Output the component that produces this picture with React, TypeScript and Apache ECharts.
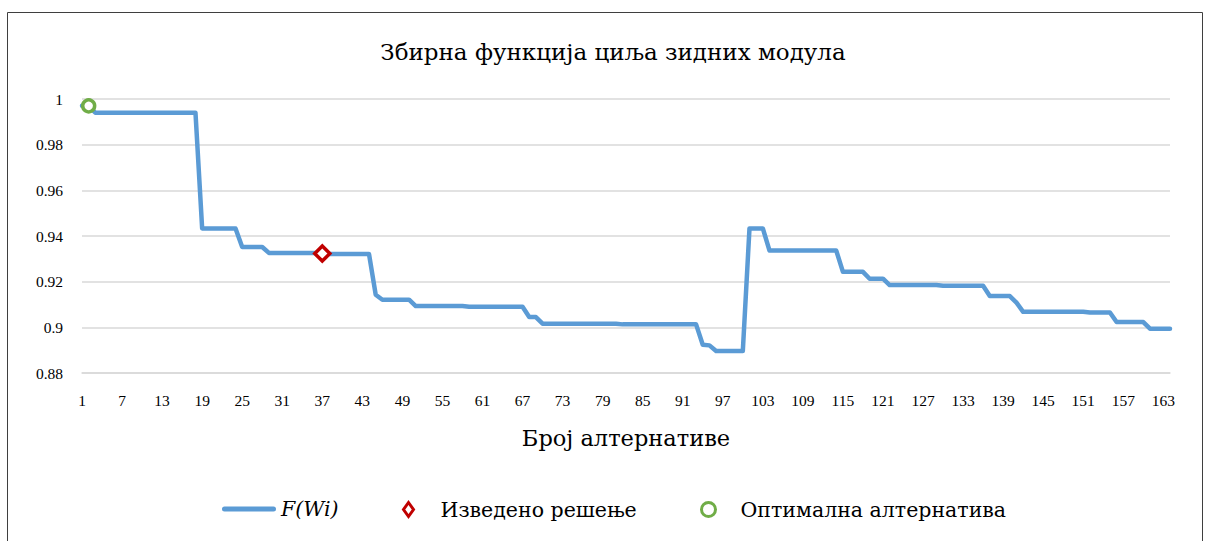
import React, { useEffect, useRef } from "react";
import * as echarts from "echarts";

// Aggregate objective function F(Wi) for each wall-module alternative (1..164)
const fValues: number[] = [
  0.997, 0.997,
  0.994, 0.994, 0.994, 0.994, 0.994, 0.994, 0.994, 0.994,
  0.994, 0.994, 0.994, 0.994, 0.994, 0.994, 0.994, 0.994,
  0.9433, 0.9433, 0.9433, 0.9433, 0.9433, 0.9433,
  0.9352, 0.9352, 0.9352, 0.9352,
  0.9326, 0.9326, 0.9326, 0.9326, 0.9326, 0.9326, 0.9326, 0.9326,
  0.9323,
  0.9321, 0.9321, 0.9321, 0.9321, 0.9321, 0.9321, 0.9321,
  0.9143,
  0.9121, 0.9121, 0.9121, 0.9121, 0.9121,
  0.9093, 0.9093, 0.9093, 0.9093, 0.9093, 0.9093, 0.9093, 0.9093,
  0.909, 0.909, 0.909, 0.909, 0.909, 0.909, 0.909, 0.909, 0.909,
  0.9045, 0.9045,
  0.9016, 0.9016, 0.9016, 0.9016, 0.9016, 0.9016, 0.9016, 0.9016, 0.9016, 0.9016, 0.9016, 0.9016,
  0.9013, 0.9013, 0.9013, 0.9013, 0.9013, 0.9013, 0.9013, 0.9013, 0.9013, 0.9013, 0.9013, 0.9013,
  0.8924,
  0.8921,
  0.8896, 0.8896, 0.8896, 0.8896, 0.8896,
  0.9433, 0.9433, 0.9433,
  0.9336, 0.9336, 0.9336, 0.9336, 0.9336, 0.9336, 0.9336, 0.9336, 0.9336, 0.9336, 0.9336,
  0.9243, 0.9243, 0.9243, 0.9243,
  0.9213, 0.9213, 0.9213,
  0.9185, 0.9185, 0.9185, 0.9185, 0.9185, 0.9185, 0.9185, 0.9185,
  0.9182, 0.9182, 0.9182, 0.9182, 0.9182, 0.9182, 0.9182,
  0.9137, 0.9137, 0.9137, 0.9137,
  0.9108,
  0.9068, 0.9068, 0.9068, 0.9068, 0.9068, 0.9068, 0.9068, 0.9068, 0.9068, 0.9068,
  0.9065, 0.9065, 0.9065, 0.9065,
  0.9023, 0.9023, 0.9023, 0.9023, 0.9023,
  0.8994, 0.8994, 0.8994, 0.8994,
];

const alternatives: string[] = fValues.map((_, i) => String(i + 1));

// Highlighted alternatives
const derivedAlternative = ["37"];
const derivedValue = [0.9323];
const optimalAlternative = ["2"];
const optimalValue = [0.997];

const TITLE = "Збирна функција циља зидних модула";
const X_NAME = "Број алтернативе";
const SERIES_F = "F(Wi)";
const SERIES_DERIVED = "Изведено решење";
const SERIES_OPTIMAL = "Оптимална алтернатива";

const TEXT_FONT = "'DejaVu Serif', serif";
const NUM_FONT = "'Liberation Serif', 'DejaVu Serif', serif";
const BLUE = "#5b9bd5";
const RED = "#c00000";
const GREEN = "#70ad47";
const GRID = "#d9d9d9";

// Legend keys drawn as fixed-aspect paths
const LINE_KEY = "path://M2.5,0 L51.5,0 A2.5,2.5 0 0 1 51.5,5 L2.5,5 A2.5,2.5 0 0 1 2.5,0 Z";
const DIAMOND_KEY = "path://M5,0 L10,7 L5,14 L0,7 Z";
const CIRCLE_KEY = "path://M6,0 A6,6 0 1 1 6,12 A6,6 0 1 1 6,0 Z";

const LEGEND_FONT = 20.5;

const legendBase = {
  top: 494,
  itemWidth: 54,
  itemHeight: 14,
  itemGap: 0,
  symbolKeepAspect: true,
  selectedMode: false,
  textStyle: {
    fontFamily: TEXT_FONT,
    fontSize: LEGEND_FONT,
    color: "#000",
    rich: { i: { fontFamily: TEXT_FONT, fontSize: LEGEND_FONT, fontStyle: "italic", color: "#000" } },
  },
};

export default function App() {
  const ref = useRef<HTMLDivElement>(null);

  useEffect(() => {
    if (!ref.current) return;
    const chart = echarts.init(ref.current, null, { renderer: "svg" });
    chart.setOption({
      animation: false,
      backgroundColor: "#ffffff",
      textStyle: { fontFamily: TEXT_FONT, color: "#000" },
      title: {
        text: TITLE,
        left: 608,
        top: 35,
        textAlign: "center",
        textStyle: { fontFamily: TEXT_FONT, fontSize: 23, fontWeight: "normal", color: "#000" },
      },
      grid: { left: 82, right: 36, top: 99, bottom: 168, containLabel: false },
      xAxis: {
        type: "category",
        data: alternatives,
        boundaryGap: false,
        name: X_NAME,
        nameLocation: "middle",
        nameGap: 53,
        nameTextStyle: { fontFamily: TEXT_FONT, fontSize: 22.5, color: "#000" },
        axisLine: { show: true, lineStyle: { color: GRID, width: 1.5 } },
        axisTick: { show: false },
        axisLabel: {
          interval: 5,
          margin: 19,
          fontFamily: NUM_FONT,
          fontSize: 15.5,
          color: "#000",
        },
        splitLine: { show: false },
      },
      yAxis: {
        type: "value",
        min: 0.88,
        max: 1,
        interval: 0.02,
        axisLine: { show: false },
        axisTick: { show: false },
        axisLabel: {
          margin: 19,
          fontFamily: NUM_FONT,
          fontSize: 15.5,
          color: "#000",
          formatter: (v: number) => String(+v.toFixed(2)),
        },
        splitLine: { lineStyle: { color: GRID, width: 1.5 } },
      },
      legend: [
        {
          ...legendBase,
          left: 217,
          data: [{ name: SERIES_F, icon: LINE_KEY, itemStyle: { color: BLUE, borderWidth: 0 } }],
          formatter: (name: string) => `{i|${name}}`,
        },
        {
          ...legendBase,
          left: 397,
          data: [
            {
              name: SERIES_DERIVED,
              icon: DIAMOND_KEY,
              itemStyle: { color: "#fff", borderColor: RED, borderWidth: 3 },
            },
          ],
        },
        {
          ...legendBase,
          left: 695,
          data: [
            {
              name: SERIES_OPTIMAL,
              icon: CIRCLE_KEY,
              itemStyle: { color: "#fff", borderColor: GREEN, borderWidth: 3 },
            },
          ],
        },
      ],
      graphic: [
        {
          type: "rect",
          shape: { x: 7.5, y: 12.5, width: 1195, height: 600 },
          style: { fill: "none", stroke: "#3f3f3f", lineWidth: 1 },
          silent: true,
          z: -1,
        },
      ],
      series: [
        {
          name: SERIES_F,
          type: "line",
          data: fValues,
          symbol: "none",
          color: BLUE,
          lineStyle: { color: BLUE, width: 4.5, cap: "round", join: "round" },
          z: 2,
        },
        {
          name: SERIES_DERIVED,
          type: "scatter",
          data: derivedAlternative.map((a, i) => [a, derivedValue[i]]),
          symbol: "diamond",
          symbolSize: 15,
          itemStyle: { color: "#fff", borderColor: RED, borderWidth: 3.5, opacity: 1 },
          z: 3,
        },
        {
          name: SERIES_OPTIMAL,
          type: "scatter",
          data: optimalAlternative.map((a, i) => [a, optimalValue[i]]),
          symbol: "circle",
          symbolSize: 12,
          itemStyle: { color: "#fff", borderColor: GREEN, borderWidth: 3.5, opacity: 1 },
          z: 3,
        },
      ],
    });
    return () => chart.dispose();
  }, []);

  return (
    <div
      ref={ref}
      style={{ position: "fixed", left: 0, top: 0, width: 1206, height: 541, background: "#fff" }}
    />
  );
}
